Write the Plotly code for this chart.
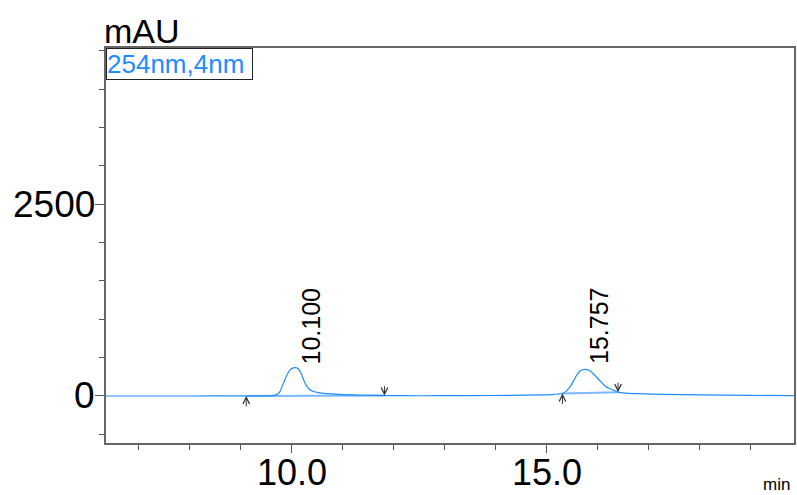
import plotly.graph_objects as go

# ---- data ----
time_min = [6.36, 8.0, 9.0, 9.5, 9.65, 9.72, 9.77, 9.82, 9.87, 9.92, 9.97, 10.03, 10.08,
            10.13, 10.19, 10.25, 10.31, 10.36, 10.43, 10.52, 10.62, 10.75, 11.0, 11.4,
            11.82, 12.5, 13.5, 14.3, 14.9, 15.15, 15.3, 15.38, 15.46, 15.53, 15.59, 15.66,
            15.75, 15.84, 15.94, 16.04, 16.14, 16.22, 16.3, 16.4, 16.55, 16.8, 17.3, 18.0,
            19.0, 19.85]
signal_mau = [0, 0, 1, 3, 8, 22, 56, 135, 215, 290, 340, 366, 370,
              355, 290, 185, 115, 80, 58, 44, 35, 27, 18, 10,
              5, 3, 5, 8, 14, 22, 33, 60, 121, 200, 274, 330,
              348, 332, 274, 200, 134, 100, 78, 50, 38, 30, 22, 15,
              8, 4]

peak_rt = [10.100, 15.757]
peak_labels = ["10.100", "15.757"]
peak_label_height = [385, 385]
peak_start_t = [9.11, 15.31]
peak_start_v = [1, 33]
peak_end_t = [11.82, 16.40]
peak_end_v = [5, 50]

x_ticks = [10.0, 15.0]
x_ticktext = ["10.0", "15.0"]
y_ticks = [0, 2500]
y_ticktext = ["0", "2500"]
channel_label = "254nm,4nm"

FONT = "Liberation Sans, Arial, sans-serif"
BLUE = "#1E8CFF"

fig = go.Figure()

# integration baselines
for ts, vs, te, ve in zip(peak_start_t, peak_start_v, peak_end_t, peak_end_v):
    fig.add_trace(go.Scatter(x=[ts, te], y=[vs, ve], mode="lines",
                             line=dict(color="rgba(110,175,255,0.9)", width=2),
                             hoverinfo="skip", showlegend=False))

fig.add_trace(go.Scatter(x=time_min, y=signal_mau, mode="lines",
                         line=dict(color=BLUE, width=1.2, shape="spline", smoothing=0.6),
                         showlegend=False))

annotations = []
for rt, lab, h in zip(peak_rt, peak_labels, peak_label_height):
    annotations.append(dict(x=rt + 0.28, y=h, xref="x", yref="y", text=lab,
                            textangle=-90, showarrow=False, xanchor="center",
                            yanchor="bottom", font=dict(family=FONT, size=25, color="black")))
for ts, vs in zip(peak_start_t, peak_start_v):
    annotations.append(dict(x=ts, y=vs, xref="x", yref="y", ax=0, ay=12, text="",
                            showarrow=True, arrowhead=5, arrowsize=1.3, arrowwidth=1,
                            arrowcolor="#333333"))
for te, ve in zip(peak_end_t, peak_end_v):
    annotations.append(dict(x=te, y=ve, xref="x", yref="y", ax=0, ay=-11, text="",
                            showarrow=True, arrowhead=5, arrowsize=1.3, arrowwidth=1,
                            arrowcolor="#333333"))
# x tick labels as text placed just under the axis
for xv, xt in zip(x_ticks, x_ticktext):
    annotations.append(dict(x=xv, y=0, xref="x", yref="paper", yanchor="top",
                            xanchor="center", yshift=-7, text=xt, showarrow=False,
                            font=dict(family=FONT, size=36, color="black")))
# y tick labels as text placed left of the axis
for yv, yt in zip(y_ticks, y_ticktext):
    annotations.append(dict(x=0, y=yv, xref="paper", yref="y", yanchor="middle",
                            xanchor="right", xshift=-9, text=yt, showarrow=False,
                            font=dict(family=FONT, size=37, color="black")))

annotations.append(dict(x=0.0, y=1.0, xref="paper", yref="paper", xanchor="left",
                        yanchor="top", text=channel_label + "\u00a0", showarrow=False,
                        font=dict(family=FONT, size=26, color=BLUE),
                        bordercolor="#222222", borderwidth=1, borderpad=0,
                        bgcolor="white"))
annotations.append(dict(x=-0.006, y=1.0, xref="paper", yref="paper", xanchor="left",
                        yanchor="bottom", yshift=-4, text="mAU", showarrow=False,
                        font=dict(family=FONT, size=34, color="black")))
annotations.append(dict(x=0.997, y=-0.105, xref="paper", yref="paper", xanchor="right",
                        yanchor="middle", text="min", showarrow=False,
                        font=dict(family=FONT, size=17, color="black")))

fig.update_layout(
    width=797, height=495,
    margin=dict(l=106, r=3, t=48, b=52, autoexpand=False),
    paper_bgcolor="white", plot_bgcolor="white",
    annotations=annotations,
    xaxis=dict(range=[6.36, 19.85], tickvals=x_ticks,
               showticklabels=False, automargin=False,
               ticks="outside", ticklen=8, tickcolor="#555555", tickwidth=1,
               minor=dict(dtick=1, tick0=0, ticks="outside", ticklen=5,
                          tickcolor="#555555", showgrid=False),
               showline=True, linecolor="#666666", linewidth=1.5, mirror=True,
               showgrid=False, zeroline=False),
    yaxis=dict(range=[-613, 4538], tickvals=y_ticks,
               showticklabels=False, automargin=False,
               ticks="outside", ticklen=9, tickcolor="#555555", tickwidth=1,
               minor=dict(dtick=500, tick0=0, ticks="outside", ticklen=5,
                          tickcolor="#555555", showgrid=False),
               showline=True, linecolor="#666666", linewidth=1.5, mirror=True,
               showgrid=False, zeroline=False),
)

# remove the browser's default 8px body margin so the figure fills the window exactly
fig.write_html("out.html", config={"displayModeBar": False},
               post_script="document.body.style.margin='0';document.body.style.overflow='hidden';")
